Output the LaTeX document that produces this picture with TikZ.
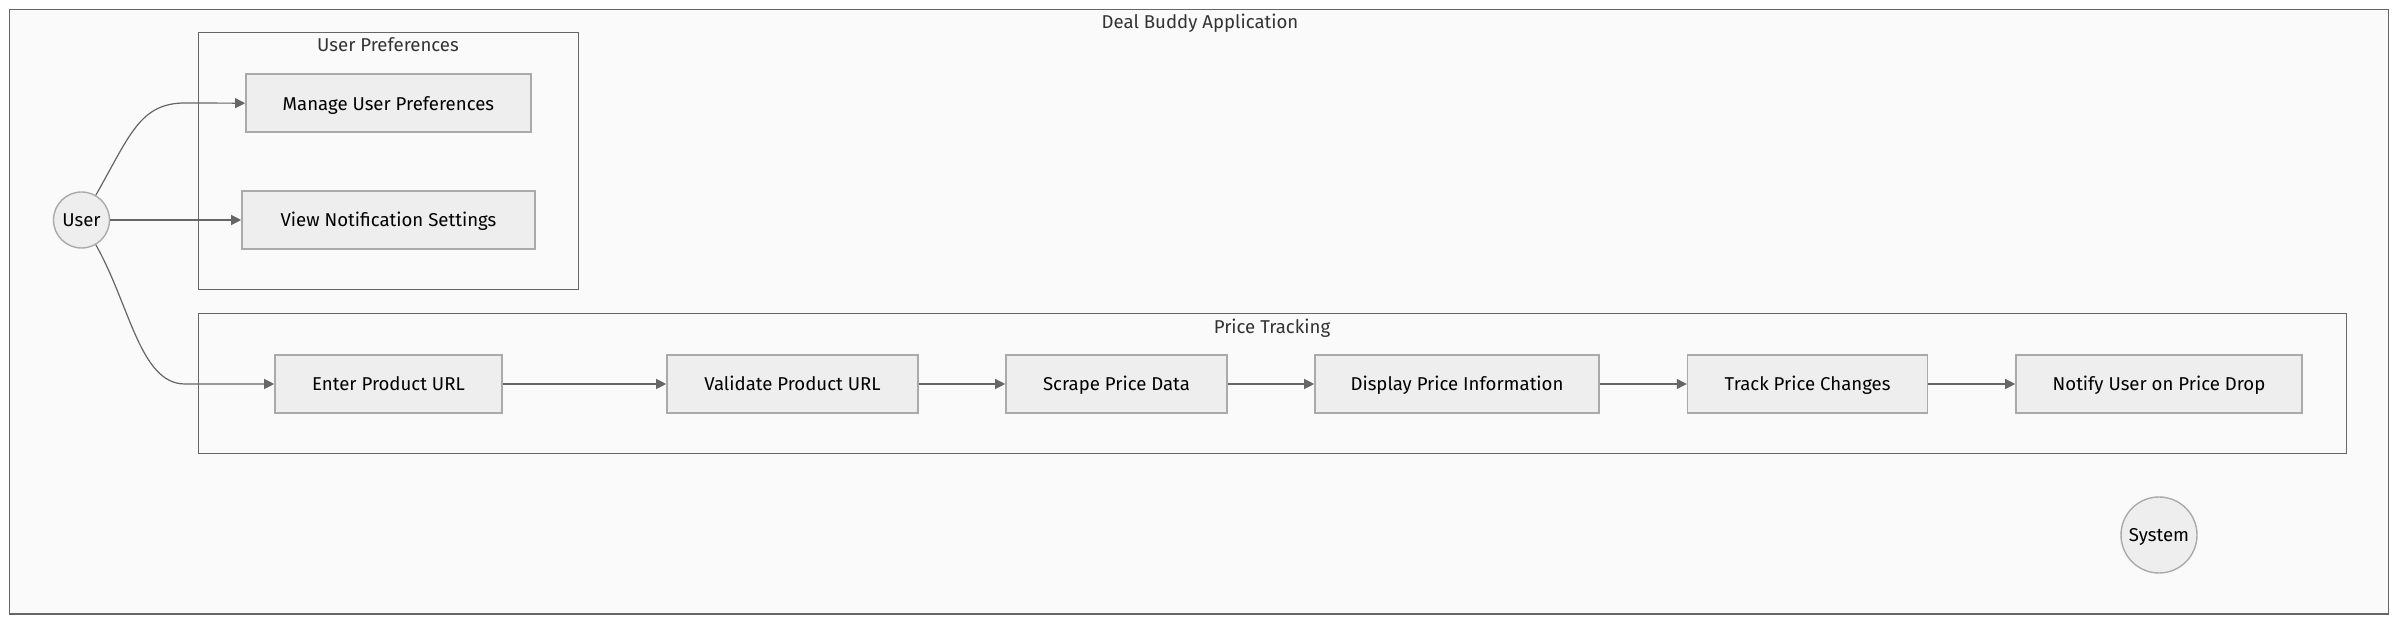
\documentclass[tikz,border=0pt]{standalone}
\usepackage{fontspec}
\setmainfont{Fira Sans}
\usetikzlibrary{arrows.meta}
\definecolor{bgfill}{HTML}{FAFAFA}
\definecolor{framecol}{HTML}{666666}
\definecolor{boxfill}{HTML}{EEEEEE}
\definecolor{boxline}{HTML}{AAAAAA}
\definecolor{edgecol}{HTML}{666666}
\definecolor{titlecol}{HTML}{333333}
\tikzset{
  px/.style={x=0.5pt,y=-0.5pt},
  captext/.style={font=\fontsize{9.3pt}{11pt}\selectfont,text height=0.69em,text depth=0pt},
  procbox/.style={captext,draw=boxline,fill=boxfill,line width=0.8pt,minimum height=29pt,inner sep=0pt,text=black},
  actor/.style={captext,circle,draw=boxline,fill=boxfill,line width=0.7pt,inner sep=0pt,text=black},
  cluster/.style={draw=framecol,line width=0.5pt,fill=bgfill},
  ctitle/.style={captext,text=titlecol,anchor=center,inner sep=0pt},
  flow/.style={draw=edgecol,line width=0.6pt,-{Triangle[length=5pt,width=5pt]}},
}
\begin{document}
\begin{tikzpicture}[px]
\useasboundingbox (0,0) rectangle (2400,624);
\fill[white] (0,0) rectangle (2400,624);
% outer frame
\draw[cluster,line width=0.6pt] (9.5,9.5) rectangle (2388.5,614);
\node[ctitle] (tApp) at (1200,21.5) {Deal Buddy Application};
% clusters
\draw[cluster] (198,33) rectangle (578,290);
\node[ctitle] (tUP) at (388,45) {User Preferences};
\draw[cluster] (198,314) rectangle (2346,454);
\node[ctitle] (tPT) at (1272,327) {Price Tracking};
% nodes
\node[actor,minimum size=28pt] (user) at (81.5,220) {User};
\node[actor,minimum size=38pt] (system) at (2159,535) {System};
\node[procbox,minimum width=142.5pt] (manage) at (388.4,103.2) {Manage User Preferences};
\node[procbox,minimum width=146.5pt] (view) at (388.5,220) {View Notification Settings};
\node[procbox,minimum width=113.5pt] (enter) at (388.5,384) {Enter Product URL};
\node[procbox,minimum width=125.5pt] (validate) at (792.5,384) {Validate Product URL};
\node[procbox,minimum width=110.5pt] (scrape) at (1116.5,384) {Scrape Price Data};
\node[procbox,minimum width=142pt] (display) at (1457,384) {Display Price Information};
\node[procbox,minimum width=120pt] (track) at (1807.6,384) {Track Price Changes};
\node[procbox,minimum width=143pt] (notify) at (2159,384) {Notify User on Price Drop};
% edges
\draw[flow] (user.60) .. controls (130,135) and (140,103) .. (185,103) -- (manage.west);
\draw[flow] (user.east) -- (view.west);
\draw[flow] (user.-60) .. controls (130,305) and (140,384) .. (185,384) -- (enter.west);
\draw[flow] (enter) -- (validate);
\draw[flow] (validate) -- (scrape);
\draw[flow] (scrape) -- (display);
\draw[flow] (display) -- (track);
\draw[flow] (track) -- (notify);
\end{tikzpicture}
\end{document}
